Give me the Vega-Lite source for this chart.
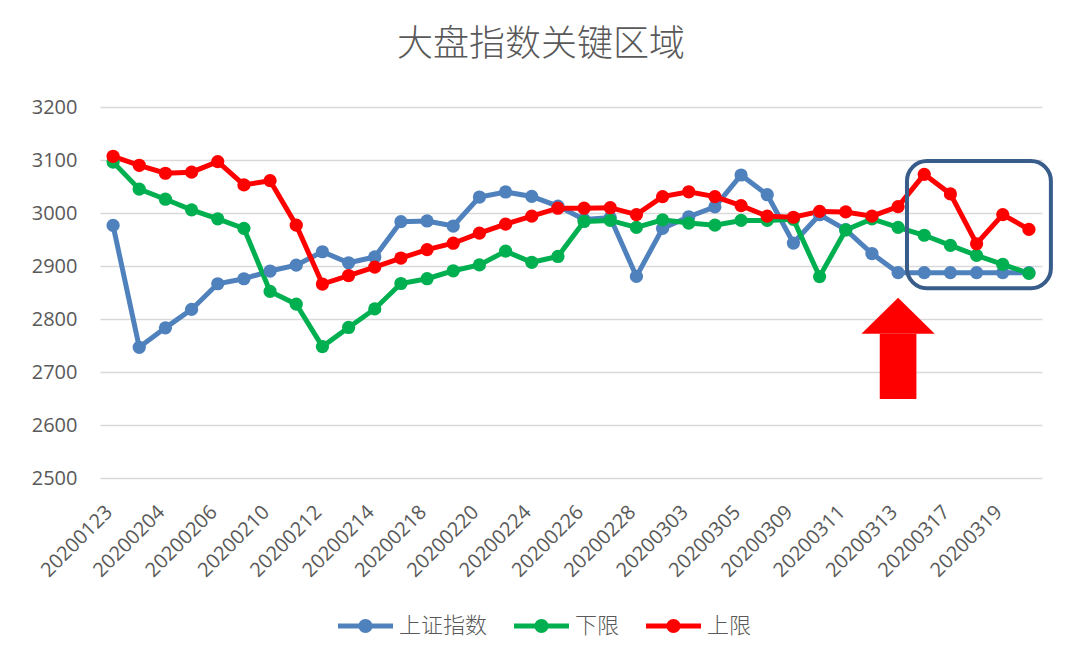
{
  "$schema": "https://vega.github.io/schema/vega-lite/v6.json",
  "autosize": "none",
  "width": 942,
  "height": 371,
  "padding": {"left": 100, "top": 107, "right": 39, "bottom": 189},
  "background": "white",
  "title": {
    "text": "大盘指数关键区域",
    "font": "Noto Sans CJK SC",
    "fontSize": 36,
    "fontWeight": 300,
    "color": "#595959",
    "anchor": "middle",
    "dx": -30,
    "offset": 33
  },
  "datasets": {
    "main": [
      {"date": "20200123", "上证指数": 2976.53, "下限": 3096, "上限": 3107},
      {"date": "20200203", "上证指数": 2746.61, "下限": 3045, "上限": 3090},
      {"date": "20200204", "上证指数": 2783.29, "下限": 3026, "上限": 3075},
      {"date": "20200205", "上证指数": 2818.09, "下限": 3006, "上限": 3077},
      {"date": "20200206", "上证指数": 2866.51, "下限": 2989, "上限": 3097},
      {"date": "20200207", "上证指数": 2875.96, "下限": 2971, "上限": 3053},
      {"date": "20200210", "上证指数": 2890.49, "下限": 2852, "上限": 3061},
      {"date": "20200211", "上证指数": 2901.67, "下限": 2828, "上限": 2977},
      {"date": "20200212", "上证指数": 2926.90, "下限": 2748, "上限": 2866},
      {"date": "20200213", "上证指数": 2906.07, "下限": 2784, "上限": 2882},
      {"date": "20200214", "上证指数": 2917.01, "下限": 2819, "上限": 2898},
      {"date": "20200217", "上证指数": 2983.62, "下限": 2867, "上限": 2915},
      {"date": "20200218", "上证指数": 2984.97, "下限": 2876, "上限": 2931},
      {"date": "20200219", "上证指数": 2975.40, "下限": 2891, "上限": 2943},
      {"date": "20200220", "上证指数": 3030.15, "下限": 2902, "上限": 2962},
      {"date": "20200221", "上证指数": 3039.67, "下限": 2928, "上限": 2979},
      {"date": "20200224", "上证指数": 3031.23, "下限": 2907, "上限": 2994},
      {"date": "20200225", "上证指数": 3013.05, "下限": 2918, "上限": 3009},
      {"date": "20200226", "上证指数": 2987.93, "下限": 2984, "上限": 3009},
      {"date": "20200227", "上证指数": 2991.33, "下限": 2986, "上限": 3010},
      {"date": "20200228", "上证指数": 2880.30, "下限": 2973, "上限": 2997},
      {"date": "20200302", "上证指数": 2970.93, "下限": 2987, "上限": 3031},
      {"date": "20200303", "上证指数": 2992.90, "下限": 2981, "上限": 3040},
      {"date": "20200304", "上证指数": 3011.67, "下限": 2977, "上限": 3031},
      {"date": "20200305", "上证指数": 3071.68, "下限": 2986, "上限": 3014},
      {"date": "20200306", "上证指数": 3034.51, "下限": 2986, "上限": 2994},
      {"date": "20200309", "上证指数": 2943.29, "下限": 2988, "上限": 2992},
      {"date": "20200310", "上证指数": 2996.76, "下限": 2880, "上限": 3003},
      {"date": "20200311", "上证指数": 2968.52, "下限": 2968, "上限": 3002},
      {"date": "20200312", "上证指数": 2923.49, "下限": 2989, "上限": 2994},
      {"date": "20200313", "上证指数": 2887.43, "下限": 2973, "上限": 3012},
      {"date": "20200316", "上证指数": 2887.43, "下限": 2958, "上限": 3073},
      {"date": "20200317", "上证指数": 2887.43, "下限": 2939, "上限": 3036},
      {"date": "20200318", "上证指数": 2887.43, "下限": 2920, "上限": 2942},
      {"date": "20200319", "上证指数": 2887.43, "下限": 2903, "上限": 2997},
      {"date": "20200320", "上证指数": 2887.43, "下限": 2886, "上限": 2969}
    ],
    "box": [{"x1": 30.84, "x2": 36.34, "top": 3098, "bottom": 2858}],
    "shaft": [{"x1": 29.8, "x2": 31.2, "top": 2772, "bottom": 2649}],
    "head": [
      {"x": 29.1, "y": 2772, "base": 2772},
      {"x": 30.5, "y": 2840, "base": 2772},
      {"x": 31.9, "y": 2772, "base": 2772}
    ]
  },
  "layer": [
    {
      "data": {"name": "main"},
      "transform": [
        {"fold": ["上证指数", "下限", "上限"], "as": ["series", "value"]}
      ],
      "mark": {
        "type": "line",
        "strokeWidth": 5,
        "point": {"filled": true, "size": 175, "opacity": 1}
      },
      "encoding": {
        "x": {
          "field": "date",
          "type": "ordinal",
          "sort": null,
          "scale": {"type": "point", "padding": 0.5},
          "axis": {
            "title": null,
            "values": ["20200123", "20200204", "20200206", "20200210", "20200212", "20200214", "20200218", "20200220", "20200224", "20200226", "20200228", "20200303", "20200305", "20200309", "20200311", "20200313", "20200317", "20200319"],
            "labelAngle": -45,
            "labelAlign": "right",
            "labelBaseline": "alphabetic",
            "labelPadding": 35,
            "labelFont": "Open Sans",
            "labelFontSize": 20,
            "labelColor": "#595959",
            "domain": false,
            "ticks": false,
            "grid": false,
            "labelOverlap": false
          }
        },
        "y": {
          "field": "value",
          "type": "quantitative",
          "scale": {"domain": [2500, 3200], "nice": false, "zero": false},
          "axis": {
            "title": null,
            "format": "d",
            "values": [2500, 2600, 2700, 2800, 2900, 3000, 3100, 3200],
            "labelFont": "Open Sans",
            "labelFontSize": 20,
            "labelColor": "#595959",
            "labelPadding": 23,
            "domain": false,
            "ticks": false,
            "grid": true,
            "gridColor": "#d9d9d9",
            "gridWidth": 1.3
          }
        },
        "color": {
          "field": "series",
          "type": "nominal",
          "sort": ["上证指数", "下限", "上限"],
          "scale": {"domain": ["上证指数", "下限", "上限"], "range": ["#4F81BD", "#00B050", "#FF0000"]},
          "legend": {
            "title": null,
            "orient": "none",
            "direction": "horizontal",
            "legendX": 237,
            "legendY": 508,
            "padding": 0,
            "symbolType": "M -1 -0.25 L 4.5 -0.25 L 4.5 0.25 L -1 0.25 Z M 2.45 0 A 0.7 0.7 0 1 1 1.05 0 A 0.7 0.7 0 1 1 2.45 0 Z",
            "symbolSize": 400,
            "symbolStrokeWidth": 0,
            "labelOffset": 40,
            "columnPadding": 25,
            "labelFont": "Noto Sans CJK SC",
            "labelFontSize": 22,
            "labelFontWeight": 300,
            "labelColor": "#595959",
            "encode": {
              "symbols": {
                "update": {
                  "fill": {"scale": "color", "field": "value"},
                  "stroke": {"value": "transparent"},
                  "opacity": {"value": 1}
                }
              }
            }
          }
        }
      }
    },
    {
      "layer": [
        {
          "data": {"name": "box"},
          "mark": {"type": "rect", "filled": false, "stroke": "#385D8A", "strokeWidth": 4, "cornerRadius": 20},
          "encoding": {
            "x": {"field": "x1", "type": "quantitative", "scale": {"domain": [0, 36], "nice": false, "zero": false}, "axis": null},
            "x2": {"field": "x2"},
            "y": {"field": "top", "type": "quantitative", "scale": {"domain": [2500, 3200], "nice": false, "zero": false}},
            "y2": {"field": "bottom"}
          }
        },
        {
          "data": {"name": "shaft"},
          "mark": {"type": "rect", "fill": "#FF0000", "stroke": null},
          "encoding": {
            "x": {"field": "x1", "type": "quantitative", "scale": {"domain": [0, 36], "nice": false, "zero": false}, "axis": null},
            "x2": {"field": "x2"},
            "y": {"field": "top", "type": "quantitative", "scale": {"domain": [2500, 3200], "nice": false, "zero": false}},
            "y2": {"field": "bottom"}
          }
        },
        {
          "data": {"name": "head"},
          "mark": {"type": "area", "color": "#FF0000", "opacity": 1, "interpolate": "linear"},
          "encoding": {
            "x": {"field": "x", "type": "quantitative", "scale": {"domain": [0, 36], "nice": false, "zero": false}, "axis": null},
            "y": {"field": "y", "type": "quantitative", "scale": {"domain": [2500, 3200], "nice": false, "zero": false}},
            "y2": {"field": "base"}
          }
        }
      ]
    }
  ],
  "resolve": {"scale": {"x": "independent"}, "axis": {"x": "independent"}},
  "config": {
    "view": {"stroke": null},
    "axis": {"labelFont": "Open Sans"}
  }
}
